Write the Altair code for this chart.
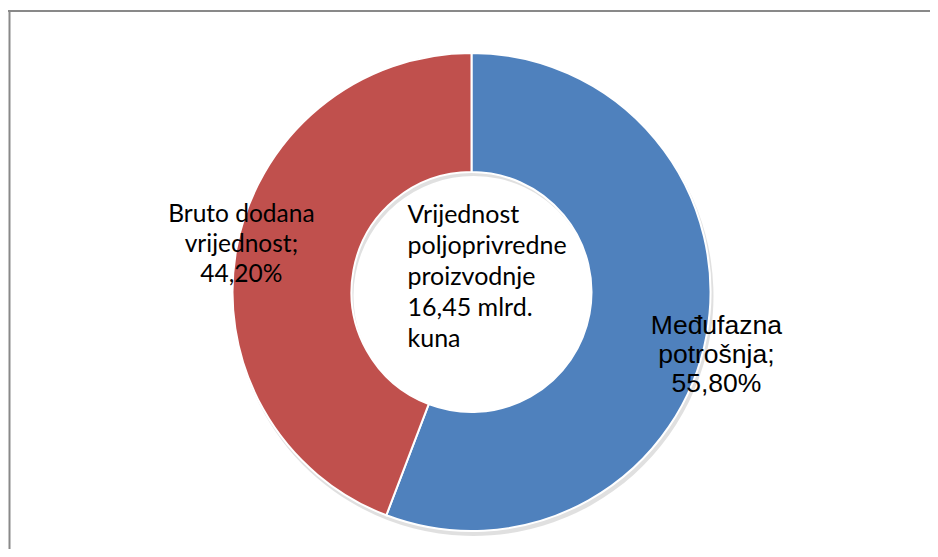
import altair as alt
import pandas as pd

categories = ["Međufazna potrošnja", "Bruto dodana vrijednost"]
label_lines = [["Međufazna", "potrošnja;"], ["Bruto dodana", "vrijednost;"]]
shares = [55.80, 44.20]
colors = ["#4F81BD", "#C0504D"]
center_lines = ["Vrijednost", "poljoprivredne", "proizvodnje", "16,45 mlrd.", "kuna"]

df = pd.DataFrame({
    "cat": categories,
    "share": shares,
    "idx": list(range(len(categories))),
    "label": ["\n".join(l + [f"{v:.2f}".replace(".", ",") + "%"]) for l, v in zip(label_lines, shares)],
})
center_df = pd.DataFrame({"t": ["\n".join(center_lines)]})

W, H = 922, 541
CX, CY = 463.5, 284
R_OUT, R_IN = 239, 120
theta_scale = alt.Scale(domain=[0, 100])

base = alt.Chart(df).encode(
    theta=alt.Theta("share:Q", stack=True, scale=theta_scale),
    order=alt.Order("idx:Q"),
)

shadow = base.mark_arc(color="#000000", opacity=0.12).encode(
    x=alt.value(CX + 2), y=alt.value(CY + 4),
    radius=alt.value(R_OUT + 1), radius2=alt.value(R_IN),
)

arcs = base.mark_arc(stroke="white", strokeWidth=2).encode(
    x=alt.value(CX), y=alt.value(CY),
    radius=alt.value(R_OUT), radius2=alt.value(R_IN),
    color=alt.Color("cat:N", scale=alt.Scale(domain=categories, range=colors), legend=None),
)

lab = alt.Chart(df).transform_window(
    cum="sum(share)", sort=[alt.SortField("idx")]
).transform_calculate(mid="datum.cum - datum.share / 2")

label_blue = lab.transform_filter(alt.datum.idx == 0).mark_text(
    font="Liberation Sans", fontSize=26.5, lineBreak="\n", lineHeight=29,
    align="center", baseline="middle", radius=249, color="black", dy=-11,
).encode(theta=alt.Theta("mid:Q", scale=theta_scale, stack=False),
         x=alt.value(CX), y=alt.value(CY), text="label:N")

label_red = lab.transform_filter(alt.datum.idx == 1).mark_text(
    font="Lato", fontSize=24.5, lineBreak="\n", lineHeight=30,
    align="center", baseline="middle", radius=234, color="black", dy=-35,
).encode(theta=alt.Theta("mid:Q", scale=theta_scale, stack=False),
         x=alt.value(CX), y=alt.value(CY), text="label:N")

center = alt.Chart(center_df).mark_text(
    font="Lato", fontSize=25, lineBreak="\n", lineHeight=31,
    align="left", baseline="middle", color="black", dx=-64, dy=-77,
).encode(x=alt.value(CX), y=alt.value(CY), text="t:N")

frame_top = alt.Chart(center_df).mark_rule(color="#898989", strokeWidth=2).encode(
    x=alt.value(0), x2=alt.value(W + 20), y=alt.value(3))
frame_left = alt.Chart(center_df).mark_rule(color="#898989", strokeWidth=2).encode(
    x=alt.value(1.5), y=alt.value(2), y2=alt.value(H + 20))

chart = alt.layer(shadow, arcs, label_blue, label_red, center, frame_top, frame_left).properties(
    width=W, height=H, padding=0, autosize=alt.AutoSizeParams(type="none"),
).configure_view(stroke=None)

chart.save("out.html", embed_options={"renderer": "svg", "actions": False})
